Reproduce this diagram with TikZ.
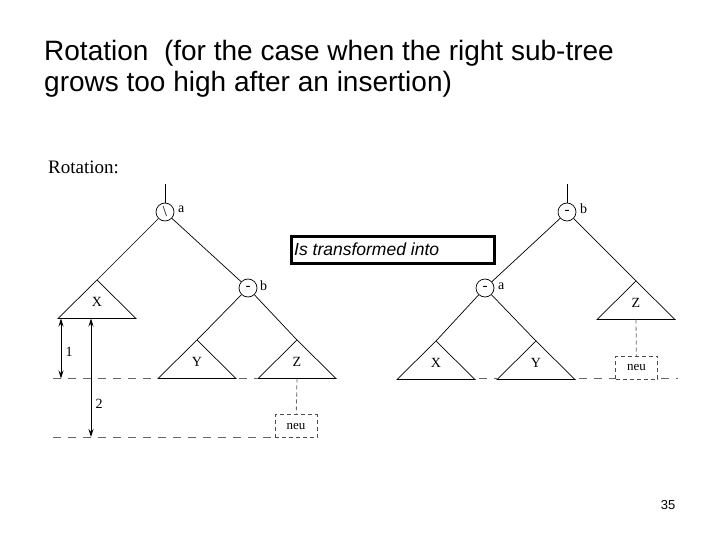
\documentclass[tikz,border=0pt]{standalone}
\usepackage{fontspec}
\setmainfont{Liberation Serif}
\newfontfamily\arialfont{Liberation Sans}
\usetikzlibrary{arrows.meta}

\begin{document}
\begin{tikzpicture}[x=1pt,y=-1pt,
  every node/.style={inner sep=0pt},
  branch/.style={line width=.7pt},
  knot/.style={draw,circle,minimum size=18pt,line width=.7pt,font=\fontsize{15}{15}\selectfont},
  side/.style={font=\fontsize{14}{14}\selectfont},
  level/.style={gray!80!black,line width=1pt,dash pattern=on 8pt off 7pt},
  neubox/.style={draw,gray!60!black,line width=.8pt,dash pattern=on 4pt off 3pt,minimum width=42pt,minimum height=23pt,text=black,font=\fontsize{13}{13}\selectfont},
  height/.style={line width=.8pt,arrows={Stealth[length=8pt,width=5pt]-Stealth[length=8pt,width=5pt]}}]
\useasboundingbox (0,0) rectangle (720,540);

\node[anchor=base west,font=\arialfont\fontsize{28}{28}\selectfont] (title1) at (44,61) {Rotation\ \ (for the case when the right sub-tree};
\node[anchor=base west,font=\arialfont\fontsize{28}{28}\selectfont] (title2) at (44,92) {grows too high after an insertion)};
\node[anchor=base west,font=\fontsize{19}{19}\selectfont] (caption) at (48,174) {Rotation:};

% before the rotation
\coordinate (ltop) at (165,184);
\node[knot] (la) at (165,212) {\textbackslash};
\node[knot] (lb) at (248,288) {-};
\node[side,anchor=west] at (178,209) {a};
\node[side,anchor=west] at (260,286) {b};

% after the rotation
\coordinate (rtop) at (567,184);
\node[knot] (rb) at (567,212) {-};
\node[knot] (ra) at (485,288) {-};
\node[side,anchor=west] at (580,209) {b};
\node[side,anchor=west] at (498,286) {a};

\foreach \n/\x/\y/\t in {lX/97/280/X,lY/197/340/Y,lZ/297/340/Z,rX/436/341/X,rY/536/341/Y,rZ/636/281/Z}{
  \coordinate (\n) at (\x,\y);
  \draw[branch] (\n) -- ++(-39,38.5) -- ++(78,0) -- cycle;
  \node[side] at (\x,\y+22) {\t};
}

\draw[branch] (ltop) -- (la);
\draw[branch] (la) -- (lX);
\draw[branch] (la) -- (lb);
\draw[branch] (lb) -- (lY);
\draw[branch] (lb) -- (lZ);
\draw[branch] (rtop) -- (rb);
\draw[branch] (rb) -- (ra);
\draw[branch] (rb) -- (rZ);
\draw[branch] (ra) -- (rX);
\draw[branch] (ra) -- (rY);

\node[neubox] (lneu) at (296,426) {neu};
\node[neubox] (rneu) at (636.5,367.5) {neu};
\coordinate (lZb) at (297,378.5);
\coordinate (rZb) at (636,319.5);
\draw[level,dash pattern=on 4pt off 3pt,line width=.8pt] (lZb) -- (lneu);
\draw[level,dash pattern=on 4pt off 3pt,line width=.8pt] (rZb) -- (rneu);

\draw[level] (53,378.5) -- (157,378.5);
\draw[level] (239,378.5) -- (257,378.5);
\draw[level] (53,437) -- (275,437);
\draw[level] (479,378.5) -- (497,378.5);
\draw[level] (579,378.5) -- (615,378.5);
\draw[level] (661,378.5) -- (678,378.5);

\coordinate (h1a) at (61,318.5);
\coordinate (h1b) at (61,378.5);
\coordinate (h2a) at (91,318.5);
\coordinate (h2b) at (91,437);
\draw[height] (h1a) -- (h1b);
\draw[height] (h2a) -- (h2b);
\node[side] at (69,352) {1};
\node[side] at (99,404) {2};

\node[draw,line width=2.5pt,minimum width=203pt,minimum height=27pt,anchor=north west] (trans) at (290,235) {};
\node[anchor=west,font=\arialfont\itshape\fontsize{17.5}{17.5}\selectfont] at (294,249) {Is transformed into};

\node[font=\arialfont\fontsize{13}{13}\selectfont] (pagenum) at (668,505) {35};
\end{tikzpicture}
\end{document}
